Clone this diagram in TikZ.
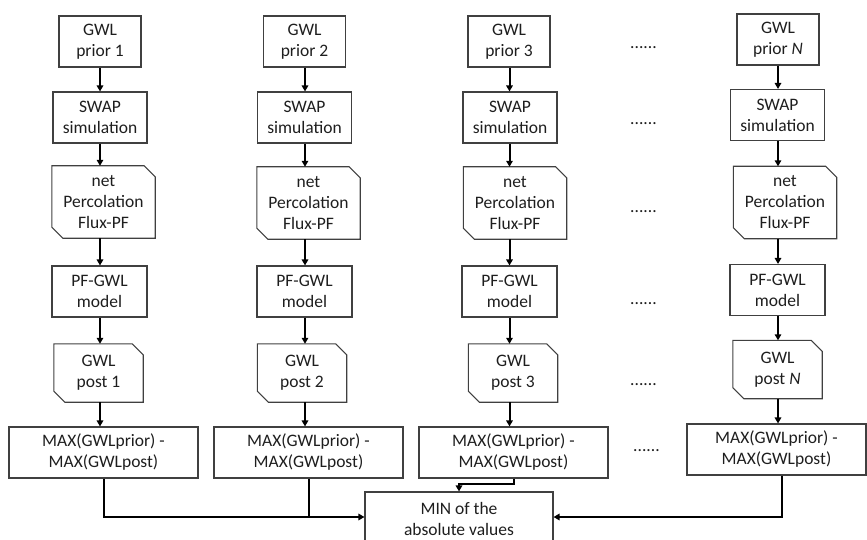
\documentclass[tikz,border=0pt]{standalone}
\usepackage{fontspec}
\setmainfont{Carlito}
\usetikzlibrary{arrows.meta,calc}
\definecolor{boxc}{HTML}{404040}
\definecolor{txt}{HTML}{1E1E1E}
\newcommand\chamf[1]{\draw[boxline] (#1.north west) -- ([xshift=-11pt]#1.north east) -- ([yshift=-11pt]#1.north east) -- (#1.south east) -- ([xshift=11pt]#1.south west) -- ([yshift=11pt]#1.south west) -- cycle;}
\tikzset{
  boxline/.style={draw=boxc, line width=1.1pt},
  box/.style={boxline, align=center, inner sep=0pt, text=txt},
  docbox/.style={align=center, inner sep=0pt, text=txt},
  prior/.style={box, minimum width=82pt, minimum height=51pt},
  swap/.style={box, minimum width=94pt, minimum height=51pt},
  netb/.style={docbox, minimum width=103pt, minimum height=72pt},
  pfb/.style={box, minimum width=95pt, minimum height=51pt},
  postb/.style={docbox, minimum width=89pt, minimum height=58pt},
  maxb/.style={box, minimum width=189pt, minimum height=51pt},
  arr/.style={draw=black, line width=2pt, -{Triangle[length=6pt,width=6.5pt]}},
  lin/.style={draw=black, line width=2pt},
  dots/.style={anchor=base west, inner sep=0pt, text=txt}
}
\begin{document}
\begin{tikzpicture}[x=1pt,y=-1pt,font=\fontsize{17.5}{21}\selectfont]
\useasboundingbox (0,0) rectangle (867,540);
% column 1
\node[prior] (p1) at (100,41.5) {GWL\\prior 1};
\node[swap] (s1) at (100,117.5) {SWAP\\simulation};
\node[netb] (n1) at (103.5,202) {net\\Percolation\\Flux-PF};
\node[pfb] (m1) at (99.5,291.5) {PF-GWL\\model};
\node[postb] (q1) at (98.5,373) {GWL\\post 1};
\node[maxb] (d1) at (103.5,452.5) {MAX(GWLprior) -\\MAX(GWLpost)};
% column 2
\node[prior] (p2) at (304.5,41.5) {GWL\\prior 2};
\node[swap] (s2) at (304.5,117.5) {SWAP\\simulation};
\node[netb] (n2) at (308.5,203) {net\\Percolation\\Flux-PF};
\node[pfb] (m2) at (304.5,291.5) {PF-GWL\\model};
\node[postb] (q2) at (302,373) {GWL\\post 2};
\node[maxb] (d2) at (308.5,452.5) {MAX(GWLprior) -\\MAX(GWLpost)};
% column 3
\node[prior] (p3) at (509,41.5) {GWL\\prior 3};
\node[swap] (s3) at (510,117.5) {SWAP\\simulation};
\node[netb] (n3) at (515,203) {net\\Percolation\\Flux-PF};
\node[pfb] (m3) at (509.5,291.5) {PF-GWL\\model};
\node[postb] (q3) at (513,373) {GWL\\post 3};
\node[maxb] (d3) at (513.5,452.5) {MAX(GWLprior) -\\MAX(GWLpost)};
% column N
\node[prior] (pN) at (778,39.5) {GWL\\prior \textit{N}};
\node[swap] (sN) at (777.5,115) {SWAP\\simulation};
\node[netb] (nN) at (785,202.5) {net\\Percolation\\Flux-PF};
\node[pfb] (mN) at (777.5,290) {PF-GWL\\model};
\node[postb] (qN) at (777.5,369.5) {GWL\\post \textit{N}};
\node[maxb, minimum width=179pt] (dN) at (776.5,449.5) {MAX(GWLprior) -\\MAX(GWLpost)};
% chamfered outlines
\chamf{n1}\chamf{n2}\chamf{n3}\chamf{nN}
\chamf{q1}\chamf{q2}\chamf{q3}\chamf{qN}
% MIN box
\node[box, minimum width=188pt, minimum height=54pt] (mn) at (459,519) {MIN of the\\absolute values};
% dots
\node[dots] (e1) at (630,49) {......};
\node[dots] (e2) at (630,125) {......};
\node[dots] (e3) at (630,213) {......};
\node[dots] (e4) at (630,304) {......};
\node[dots] (e5) at (630,385) {......};
\node[dots] (e6) at (633,451) {......};
% column arrow positions
\coordinate (c1) at (100,0);
\coordinate (c2) at (305,0);
\coordinate (c3) at (509.5,0);
\coordinate (cN) at (778,0);
\foreach \c/\i in {c1/1,c2/2,c3/3,cN/N}{
  \draw[arr] (\c |- p\i.south) -- (\c |- s\i.north);
  \draw[arr] (\c |- s\i.south) -- (\c |- n\i.north);
  \draw[arr] (\c |- n\i.south) -- (\c |- m\i.north);
  \draw[arr] (\c |- m\i.south) -- (\c |- q\i.north);
  \draw[arr] (\c |- q\i.south) -- (\c |- d\i.north);
}
% bottom connectors
\coordinate (jl) at ([yshift=2pt]mn.west);
\coordinate (jr) at ([yshift=2pt]mn.east);
\draw[arr] (d1.south) |- (jl);
\draw[lin] (d2.south) -- (d2.south |- jl);
\draw[arr] (d3.south) -- ++(0,5.5) -| (mn.north);
\draw[arr] ([xshift=5pt]dN.south) |- (jr);
\end{tikzpicture}
\end{document}
